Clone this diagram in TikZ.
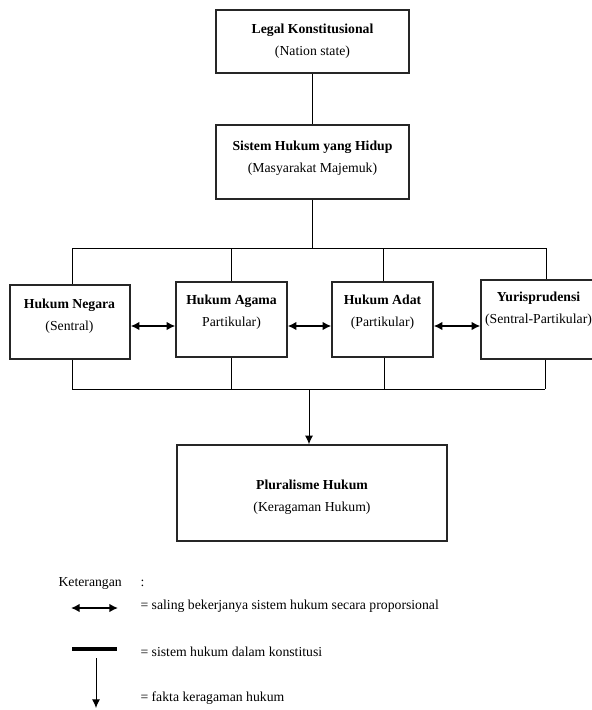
\documentclass[tikz,border=0pt]{standalone}
\usepackage{fontspec}
\setmainfont{Liberation Serif}
\usetikzlibrary{arrows.meta}

\tikzset{every picture/.style={line width=0.75pt}}

\begin{document}
\begin{tikzpicture}[x=0.75pt,y=0.75pt,yscale=-1,xscale=1,
  box/.style={draw=black!85,line width=1.1pt,inner sep=0pt,fill=none},
  txt/.style={align=center,inner sep=0.75pt,font=\fontsize{10.3}{16.5}\selectfont},
  leg/.style={anchor=west,inner sep=0.75pt,font=\fontsize{10.3}{12}\selectfont},
  dbl/.style={{Latex[length=6.5pt,width=6.5pt]}-{Latex[length=6.5pt,width=6.5pt]},line width=1.2pt},
  down/.style={-{Latex[length=6.5pt,width=6pt]}}]
\useasboundingbox (0,0) rectangle (592,710);

%Shape: Rectangle [legal]
\node[box,minimum width=144.75pt,minimum height=47.25pt] (legal) at (312.5,41.5) {};
%Shape: Rectangle [sistem]
\node[box,minimum width=144.75pt,minimum height=55.5pt] (sistem) at (312.5,162) {};
%Shape: Rectangle [negara]
\node[box,minimum width=90pt,minimum height=55.5pt] (negara) at (70,322) {};
%Shape: Rectangle [agama]
\node[box,minimum width=83.25pt,minimum height=56.25pt] (agama) at (231.5,319.5) {};
%Shape: Rectangle [adat]
\node[box,minimum width=75.75pt,minimum height=56.25pt] (adat) at (382.5,319.5) {};
%Shape: Rectangle [yuris]
\node[box,minimum width=84.75pt,minimum height=59.25pt] (yuris) at (537.5,319.5) {};
%Shape: Rectangle [plural]
\node[box,minimum width=202.5pt,minimum height=72pt] (plural) at (312,493) {};

% Text Node
\node[txt] (legalT) at (312.5,41.5) {\textbf{Legal Konstitusional}\\(Nation state)};
% Text Node
\node[txt] (sistemT) at (312.5,158.5) {\textbf{Sistem Hukum yang Hidup}\\(Masyarakat Majemuk)};
% Text Node
\node[txt] (negaraT) at (69.5,316.5) {\textbf{Hukum Negara}\\(Sentral)};
% Text Node
\node[txt] (agamaT) at (231.5,312.5) {\textbf{Hukum Agama}\\Partikular)};
% Text Node
\node[txt] (adatT) at (382.5,312) {\textbf{Hukum Adat}\\(Partikular)};
% Text Node
\node[txt] (yurisT) at (538.5,309.5) {\textbf{Yurisprudensi}\\(Sentral-Partikular)};
% Text Node
\node[txt] (pluralT) at (312,497) {\textbf{Pluralisme Hukum}\\(Keragaman Hukum)};

%Lines: upper bus
\coordinate (busL) at (72,248);
\coordinate (busR) at (546,248);
\draw (legal) -- (sistem);
\draw (sistem.south) -- (sistem.south |- busL);
\draw (busL) -- (busR);
\draw (busL) -- (busL |- negara.north);
\draw (agama.north) -- (agama.north |- busL);
\draw ([xshift=1pt]adat.north) -- ([xshift=1pt]adat.north |- busL);
\draw (busR) -- (busR |- yuris.north);

%Lines: lower bus
\coordinate (lowL) at (72,389);
\coordinate (lowR) at (545,389);
\coordinate (lowM) at (309,389);
\draw (lowL) -- (lowR);
\draw (lowL |- negara.south) -- (lowL);
\draw (agama.south) -- (agama.south |- lowL);
\draw ([xshift=1.5pt]adat.south) -- ([xshift=1.5pt]adat.south |- lowL);
\draw (lowR |- yuris.south) -- (lowR);
\draw[down] (lowM) -- (lowM |- plural.north);

%Double arrows
\coordinate (ay) at (0,326);
\draw[dbl] (negara.east |- ay) -- (agama.west |- ay);
\draw[dbl] (agama.east |- ay) -- (adat.west |- ay);
\draw[dbl] (adat.east |- ay) -- (yuris.west |- ay);

%Legend
\node[leg] (ket) at (57,583) {Keterangan};
\node[leg] (ketC) at (139,583) {:};
\coordinate (la1) at (71,608);
\coordinate (la2) at (118,608);
\draw[dbl] (la1) -- (la2);
\node[leg] (ketA) at (139,606) {= saling bekerjanya sistem hukum secara proporsional};
\coordinate (lb1) at (72,649);
\coordinate (lb2) at (117,649);
\draw[line width=2.4pt] (lb1) -- (lb2);
\node[leg] (ketB) at (139,652) {= sistem hukum dalam konstitusi};
\coordinate (lc1) at (96,658);
\coordinate (lc2) at (96,708);
\draw[down] (lc1) -- (lc2);
\node[leg] (ketD) at (139,698) {= fakta keragaman hukum};

\end{tikzpicture}
\end{document}
